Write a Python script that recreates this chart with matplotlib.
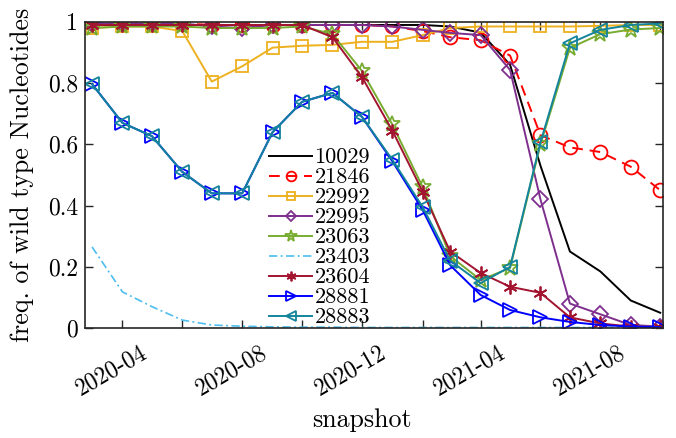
import numpy as np
import matplotlib
matplotlib.use('Agg')
import matplotlib.pyplot as plt
import matplotlib.dates as mdates
import matplotlib.transforms as mtransforms

plt.rcParams['font.family'] = 'serif'
plt.rcParams['font.serif'] = ['cmr10', 'DejaVu Serif']
plt.rcParams['mathtext.fontset'] = 'cm'
plt.rcParams['axes.formatter.use_mathtext'] = True

# monthly snapshots
months = ['2020-03', '2020-04', '2020-05', '2020-06', '2020-07', '2020-08',
          '2020-09', '2020-10', '2020-11', '2020-12', '2021-01', '2021-02',
          '2021-03', '2021-04', '2021-05', '2021-06', '2021-07', '2021-08',
          '2021-09', '2021-10']
dates = np.array(months, dtype='datetime64[D]')

# frequency of the wild type nucleotide at each position
f10029 = [0.99, 0.99, 0.99, 0.99, 0.99, 0.99, 0.99, 0.99, 0.99, 0.99,
          0.99, 0.99, 0.985, 0.965, 0.86, 0.53, 0.25, 0.185, 0.09, 0.05]
f21846 = [0.995, 0.995, 0.995, 0.995, 0.99, 0.99, 0.99, 0.99, 0.99, 0.99,
          0.985, 0.97, 0.95, 0.94, 0.89, 0.63, 0.59, 0.575, 0.527, 0.45]
f22992 = [0.98, 0.985, 0.985, 0.97, 0.805, 0.855, 0.916, 0.922, 0.925, 0.935,
          0.935, 0.957, 0.98, 0.985, 0.985, 0.985, 0.985, 0.987, 0.99, 0.99]
f22995 = [0.995, 0.995, 0.995, 0.995, 0.985, 0.98, 0.99, 0.99, 0.99, 0.99,
          0.985, 0.974, 0.964, 0.957, 0.843, 0.42, 0.08, 0.045, 0.01, 0.005]
f23063 = [0.98, 0.985, 0.985, 0.985, 0.98, 0.98, 0.98, 0.985, 0.96, 0.84,
          0.665, 0.46, 0.235, 0.157, 0.196, 0.60, 0.915, 0.96, 0.975, 0.98]
f23403 = [0.265, 0.118, 0.07, 0.026, 0.01, 0.006, 0.004, 0.003, 0.003, 0.002,
          0.002, 0.002, 0.002, 0.002, 0.002, 0.002, 0.002, 0.002, 0.002, 0.002]
f23604 = [0.99, 0.99, 0.99, 0.99, 0.99, 0.99, 0.99, 0.99, 0.95, 0.82,
          0.645, 0.445, 0.25, 0.18, 0.135, 0.115, 0.035, 0.015, 0.005, 0.002]
f28881 = [0.797, 0.67, 0.627, 0.51, 0.44, 0.44, 0.64, 0.739, 0.768, 0.69,
          0.545, 0.385, 0.205, 0.108, 0.059, 0.035, 0.02, 0.01, 0.005, 0.003]
f28883 = [0.797, 0.67, 0.627, 0.51, 0.44, 0.44, 0.64, 0.739, 0.768, 0.69,
          0.55, 0.395, 0.22, 0.147, 0.2, 0.607, 0.93, 0.974, 0.99, 0.995]

fig = plt.figure(figsize=(6.76, 4.38), dpi=100)
ax = fig.add_axes([0.126, 0.251, 0.855, 0.699])

mk = dict(markersize=10, markeredgewidth=1.3, linewidth=1.4)
ax.plot(dates, f10029, '-', color='black', linewidth=1.4, label='10029')
ax.plot(dates, f21846, '--o', color='#FF0000', markerfacecolor='none', label='21846',
        dashes=(5.5, 3.5), **mk)
ax.plot(dates, f22992, '-s', color='#EDB120', markerfacecolor='none', label='22992',
        markersize=8.5, markeredgewidth=1.3, linewidth=1.4)
ax.plot(dates, f22995, '-D', color='#7E2F8E', markerfacecolor='none', label='22995',
        markersize=8, markeredgewidth=1.3, linewidth=1.4)
ax.plot(dates, f23063, '-*', color='#77AC30', markerfacecolor='none', label='23063',
        markersize=12, markeredgewidth=1.3, linewidth=1.4)
ax.plot(dates, f23403, '-.', color='#4DBEEE', linewidth=1.2, label='23403',
        dashes=(5, 2, 1.2, 2))
ax.plot(dates, f23604, '-', marker=(6, 2, 0), color='#A2142F', label='23604', **mk)
ax.plot(dates, f28881, '->', color='#0000FF', markerfacecolor='none', label='28881', **mk)
ax.plot(dates, f28883, '-<', color='#13849B', markerfacecolor='none', label='28883', **mk)

ax.set_xlim(dates[0] - np.timedelta64(7, 'D'), dates[-1] + np.timedelta64(3, 'D'))
ax.set_ylim(0, 1)
ax.set_yticks([0, 0.2, 0.4, 0.6, 0.8, 1])
ax.set_yticklabels(['0', '0.2', '0.4', '0.6', '0.8', '1'])

ax.xaxis.set_major_locator(mdates.MonthLocator(bymonth=[4, 8, 12]))
ax.xaxis.set_minor_locator(mdates.MonthLocator(bymonth=[2, 6, 10]))
ax.xaxis.set_major_formatter(mdates.DateFormatter('%Y-%m'))

ax.tick_params(which='both', direction='in', top=True, right=True,
               length=6, width=1, labelsize=17, color='#262626')
ax.tick_params(axis='x', pad=10)
ax.tick_params(axis='y', pad=5)

# rotated date labels, nudged left of their ticks
shift = mtransforms.ScaledTranslation(-11 / 100, 0, fig.dpi_scale_trans)
for lab in ax.get_xticklabels():
    lab.set_rotation(30)
    lab.set_ha('center')
    lab.set_transform(lab.get_transform() + shift)

for s in ax.spines.values():
    s.set_linewidth(1.2)
    s.set_color('#262626')

ax.set_xlabel('snapshot', fontsize=18.7)
ax.xaxis.set_label_coords(0.479, -0.262)
ax.set_ylabel('freq. of wild type Nucleotides', fontsize=18.7)
ax.yaxis.set_label_coords(-0.088, 0.5)

ax.legend(loc='upper left', bbox_to_anchor=(0.318, 0.589), frameon=False,
          fontsize=16, handlelength=1.95, handletextpad=0.1, labelspacing=0.02,
          borderpad=0, borderaxespad=0, markerscale=0.7)

fig.savefig('out.png', dpi=100)
